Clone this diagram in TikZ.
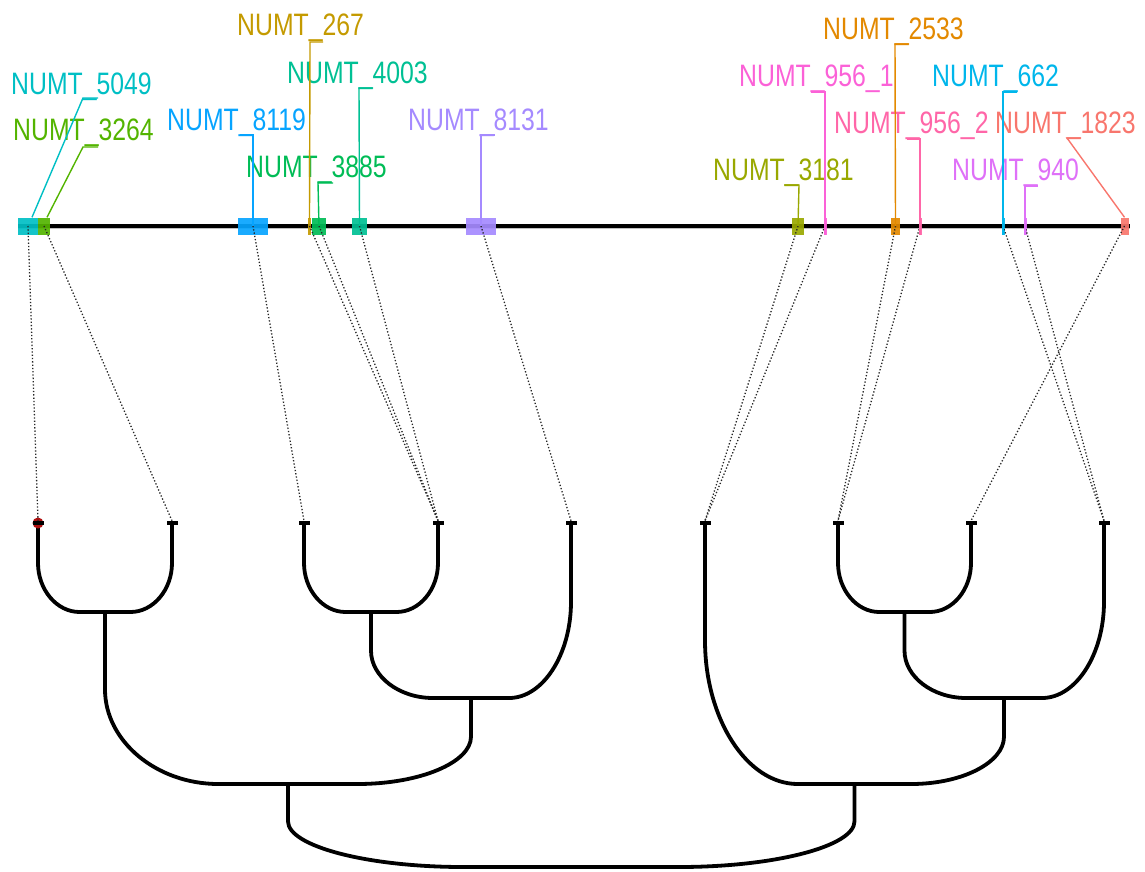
\documentclass[tikz,border=0pt]{standalone}
\usepackage{fontspec}
\newfontfamily\labfont[FakeStretch=0.8]{Liberation Sans}
\usetikzlibrary{calc}
\definecolor{c1823}{HTML}{F8766D}
\definecolor{c2533}{HTML}{E38900}
\definecolor{c267}{HTML}{C49A00}
\definecolor{c3181}{HTML}{99A800}
\definecolor{c3264}{HTML}{53B400}
\definecolor{c3885}{HTML}{00BC56}
\definecolor{c4003}{HTML}{00C094}
\definecolor{c5049}{HTML}{00BFC4}
\definecolor{c662}{HTML}{00B6EB}
\definecolor{c8119}{HTML}{06A4FF}
\definecolor{c8131}{HTML}{A58AFF}
\definecolor{c940}{HTML}{DF70F8}
\definecolor{c9561}{HTML}{FB61D7}
\definecolor{c9562}{HTML}{FF66A8}
\definecolor{tipred}{HTML}{B01010}
\begin{document}
\begin{tikzpicture}[x=1pt,y=-1pt,
  lab/.style={anchor=base west, inner sep=0, font=\labfont\fontsize{31}{31}\selectfont},
  feat/.style={rectangle, inner sep=0, minimum height=17, draw=none, fill opacity=0.92},
  lead/.style={line width=1.4},
  link/.style={dotted, line width=1.3, black!85},
  branch/.style={line width=3.8, line cap=round},
  tipm/.style={rectangle, fill=black, inner sep=0, minimum width=11, minimum height=4},
  elb/.style={to path={let \p1=(\tikztostart), \p2=(\tikztotarget) in
     -- (\x1,{\y1+0.45*(\y2-\y1)})
     .. controls (\x1,{\y1+0.75*(\y2-\y1)}) and ({\x1+0.28*(\x2-\x1)},\y2)
     .. ({\x1+0.62*(\x2-\x1)},\y2) -- (\tikztotarget)}}
]
\useasboundingbox (0,0) rectangle (1145,871);

% ---------- tree ----------
\coordinate (n1) at (105,612);
\coordinate (n2) at (371,612);
\coordinate (n3) at (471,698);
\coordinate (n4) at (288,784);
\coordinate (n5) at (904.5,612);
\coordinate (n6) at (1004,698);
\coordinate (n7) at (854.5,784);
\coordinate (rt) at (571,867);

\coordinate (t1c) at (38,523);
\coordinate (t2c) at (172,523);
\coordinate (t3c) at (304,523);
\coordinate (t4c) at (438,523);
\coordinate (t5c) at (571,523);
\coordinate (t6c) at (705,523);
\coordinate (t7c) at (838,523);
\coordinate (t8c) at (971,523);
\coordinate (t9c) at (1104,523);

\draw[branch] (t1c) to[elb] (n1);
\draw[branch] (t2c) to[elb] (n1);
\draw[branch] (t3c) to[elb] (n2);
\draw[branch] (t4c) to[elb] (n2);
\draw[branch] (n2) to[elb] (n3);
\draw[branch] (t5c) to[elb] (n3);
\draw[branch] (n1) to[elb] (n4);
\draw[branch] (n3) to[elb] (n4);
\draw[branch] (t7c) to[elb] (n5);
\draw[branch] (t8c) to[elb] (n5);
\draw[branch] (n5) to[elb] (n6);
\draw[branch] (t9c) to[elb] (n6);
\draw[branch] (t6c) to[elb] (n7);
\draw[branch] (n6) to[elb] (n7);
\draw[branch] (n4) to[elb] (rt);
\draw[branch] (n7) to[elb] (rt);

\fill[tipred] (t1c) circle (5.5);
\node[tipm] (t1) at (t1c) {};
\node[tipm] (t2) at (t2c) {};
\node[tipm] (t3) at (t3c) {};
\node[tipm] (t4) at (t4c) {};
\node[tipm] (t5) at (t5c) {};
\node[tipm] (t6) at (t6c) {};
\node[tipm] (t7) at (t7c) {};
\node[tipm] (t8) at (t8c) {};
\node[tipm] (t9) at (t9c) {};

% ---------- chromosome ----------
\coordinate (cl) at (18,226);
\coordinate (cr) at (1130,226);
\draw[line width=5, black!25] (cl) -- (cr);
\draw[line width=3.2] (cl) -- (cr);

\node[feat, fill=c5049, minimum width=20] (f5049) at (28,226) {};
\node[feat, fill=c3264, minimum width=12] (f3264) at (44,226) {};
\node[feat, fill=c8119, minimum width=30] (f8119) at (253,226) {};
\node[feat, fill=c267,  minimum width=3]  (f267)  at (309.5,226) {};
\node[feat, fill=c3885, minimum width=14] (f3885) at (319,226) {};
\node[feat, fill=c4003, minimum width=15] (f4003) at (359.5,226) {};
\node[feat, fill=c8131, minimum width=30] (f8131) at (481,226) {};
\node[feat, fill=c3181, minimum width=12] (f3181) at (798,226) {};
\node[feat, fill=c9561, minimum width=3]  (f9561) at (825,226) {};
\node[feat, fill=c2533, minimum width=9]  (f2533) at (895.5,226) {};
\node[feat, fill=c9562, minimum width=3]  (f9562) at (920,226) {};
\node[feat, fill=c662,  minimum width=3]  (f662)  at (1003,226) {};
\node[feat, fill=c940,  minimum width=3]  (f940)  at (1025,226) {};
\node[feat, fill=c1823, minimum width=8]  (f1823) at (1124.5,226) {};

% ---------- dotted links ----------
\draw[link] (f5049.center) -- (t1.north);
\draw[link] (f3264.center) -- (t2.north);
\draw[link] (f8119.center) -- (t3.north);
\draw[link] (f267.center)  -- (t4.north);
\draw[link] (f3885.center) -- (t4.north);
\draw[link] (f4003.center) -- (t4.north);
\draw[link] (f8131.center) -- (t5.north);
\draw[link] (f3181.center) -- (t6.north);
\draw[link] (f9561.center) -- (t6.north);
\draw[link] (f2533.center) -- (t7.north);
\draw[link] (f9562.center) -- (t7.north);
\draw[link] (f662.center)  -- (t9.north);
\draw[link] (f940.center)  -- (t9.north);
\draw[link] (f1823.center) -- (t8.north);

% ---------- labels ----------
\node[lab, text=c5049] (L5049) at (11,94)  {NUMT\_5049};
\node[lab, text=c3264] (L3264) at (13,140) {NUMT\_3264};
\node[lab, text=c8119] (L8119) at (167,130) {NUMT\_8119};
\node[lab, text=c267]  (L267)  at (237,35)  {NUMT\_267};
\node[lab, text=c4003] (L4003) at (287,83)  {NUMT\_4003};
\node[lab, text=c3885] (L3885) at (246,177) {NUMT\_3885};
\node[lab, text=c8131] (L8131) at (408,130) {NUMT\_8131};
\node[lab, text=c3181] (L3181) at (713,180) {NUMT\_3181};
\node[lab, text=c9561] (L9561) at (739,86)  {NUMT\_956\_1};
\node[lab, text=c2533] (L2533) at (823,39)  {NUMT\_2533};
\node[lab, text=c9562] (L9562) at (834,133) {NUMT\_956\_2};
\node[lab, text=c662]  (L662)  at (932,86)  {NUMT\_662};
\node[lab, text=c1823] (L1823) at (995,133) {NUMT\_1823};
\node[lab, text=c940]  (L940)  at (952,180) {NUMT\_940};

% ---------- leader lines ----------
\draw[lead, c5049] ([xshift=4]f5049.north) -- (83,98) -- (98,98);
\draw[lead, c3264] ([xshift=3]f3264.north) -- (83,147) -- (98,147);
\draw[lead, c8119] (f8119.center) -- (253,135) -- (240,135);
\draw[lead, c267]  ([yshift=7]f267.center) -- (310,42) -- (323,42);
\draw[lead, c3885] (f3885.center) -- (318,183) -- (333,183);
\draw[lead, c4003] (f4003.center) -- (359,88) -- (373,88);
\draw[lead, c8131] (f8131.center) -- (481,135) -- (495,135);
\draw[lead, c3181] (f3181.center) -- (799,185) -- (784,185);
\draw[lead, c9561] (f9561.south) -- (825,92) -- (811,92);
\draw[lead, c2533] (f2533.center) -- (895,44) -- (909,44);
\draw[lead, c9562] (f9562.south) -- (920,139) -- (907,139);
\draw[lead, c662]  (f662.south)  -- (1003,92) -- (1017,92);
\draw[lead, c940]  (f940.south)  -- (1025,186) -- (1038,186);
\draw[lead, c1823] (f1823.north) -- (1067,138) -- (1081,138);
\end{tikzpicture}
\end{document}
